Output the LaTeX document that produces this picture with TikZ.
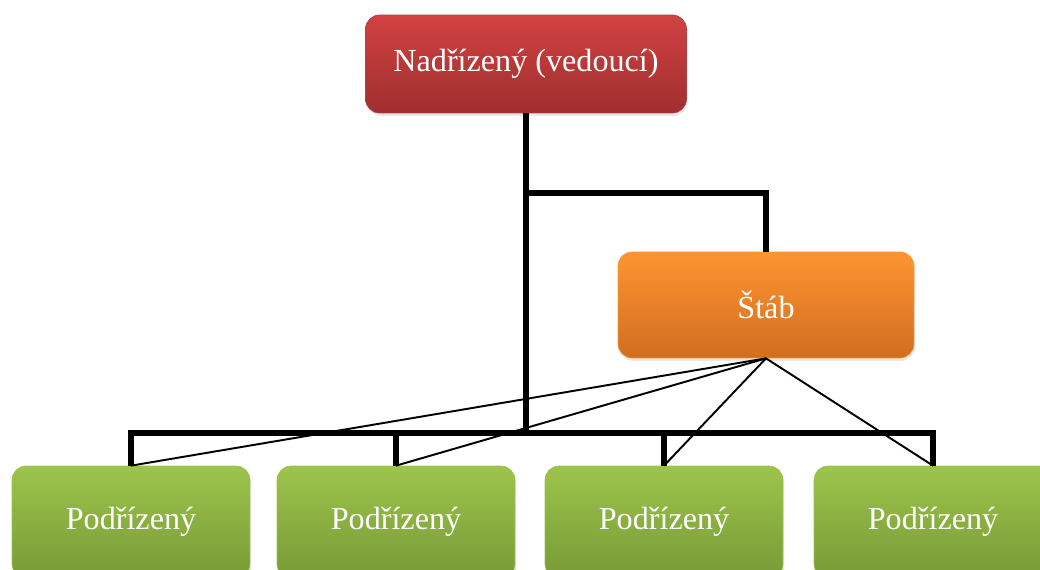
\documentclass[tikz,border=0pt]{standalone}
\usepackage{fontspec}
\setmainfont{Liberation Serif}
\usepackage{tikz}
\usetikzlibrary{shadows}

\definecolor{redtop}{HTML}{D24242}
\definecolor{redbot}{HTML}{A02E2E}
\definecolor{orangetop}{HTML}{FF9430}
\definecolor{orangebot}{HTML}{D06E20}
\definecolor{greentop}{HTML}{9DC44C}
\definecolor{greenbot}{HTML}{789A36}

\begin{document}
\begin{tikzpicture}
	[x=0.02cm, y=0.02cm,
	box/.style={rounded corners=8pt, text=white, align=center,
		font=\fontsize{18.3}{22}\selectfont,
		drop shadow={shadow xshift=0.6pt, shadow yshift=-1.6pt, opacity=0.18}},
	chief/.style={box, minimum width=6.42cm, minimum height=1.96cm,
		top color=redtop, bottom color=redbot, draw=redbot!90!white},
	stab/.style={box, minimum width=5.92cm, minimum height=2.12cm,
		top color=orangetop, bottom color=orangebot, draw=orangetop},
	podr/.style={box, minimum width=4.76cm, minimum height=2.24cm,
		top color=greentop, bottom color=greenbot, draw=greentop},
	trunk/.style={line width=3.6pt, line join=miter},
	twig/.style={line width=1.1pt}]
	\clip (0,0) rectangle (1040,569);
	\node[chief] (boss) at (526,505) {Nadřízený (vedoucí)};
	\node[stab] (staff) at (766,264) {Štáb};
	\node[podr] (sub1) at (131,47) {Podřízený};
	\node[podr] (sub2) at (396,47) {Podřízený};
	\node[podr] (sub3) at (664,47) {Podřízený};
	\node[podr] (sub4) at (933,47) {Podřízený};
	\coordinate (bus) at (0,136);
	\coordinate (fork) at (0,376);
	% line of command
	\draw[trunk] (boss.south) -- (boss.south |- bus);
	\draw[trunk] (boss.south |- fork) -| (staff.north);
	\draw[trunk] (sub1.north) -- (sub1.north |- bus) -- (sub4.north |- bus) -- (sub4.north);
	\foreach \i in {2,3}
		\draw[trunk] (sub\i.north |- bus) -- (sub\i.north);
	% staff links
	\foreach \i in {1,...,4}
		\draw[twig] (staff.south) -- (sub\i.north);
\end{tikzpicture}
\end{document}
